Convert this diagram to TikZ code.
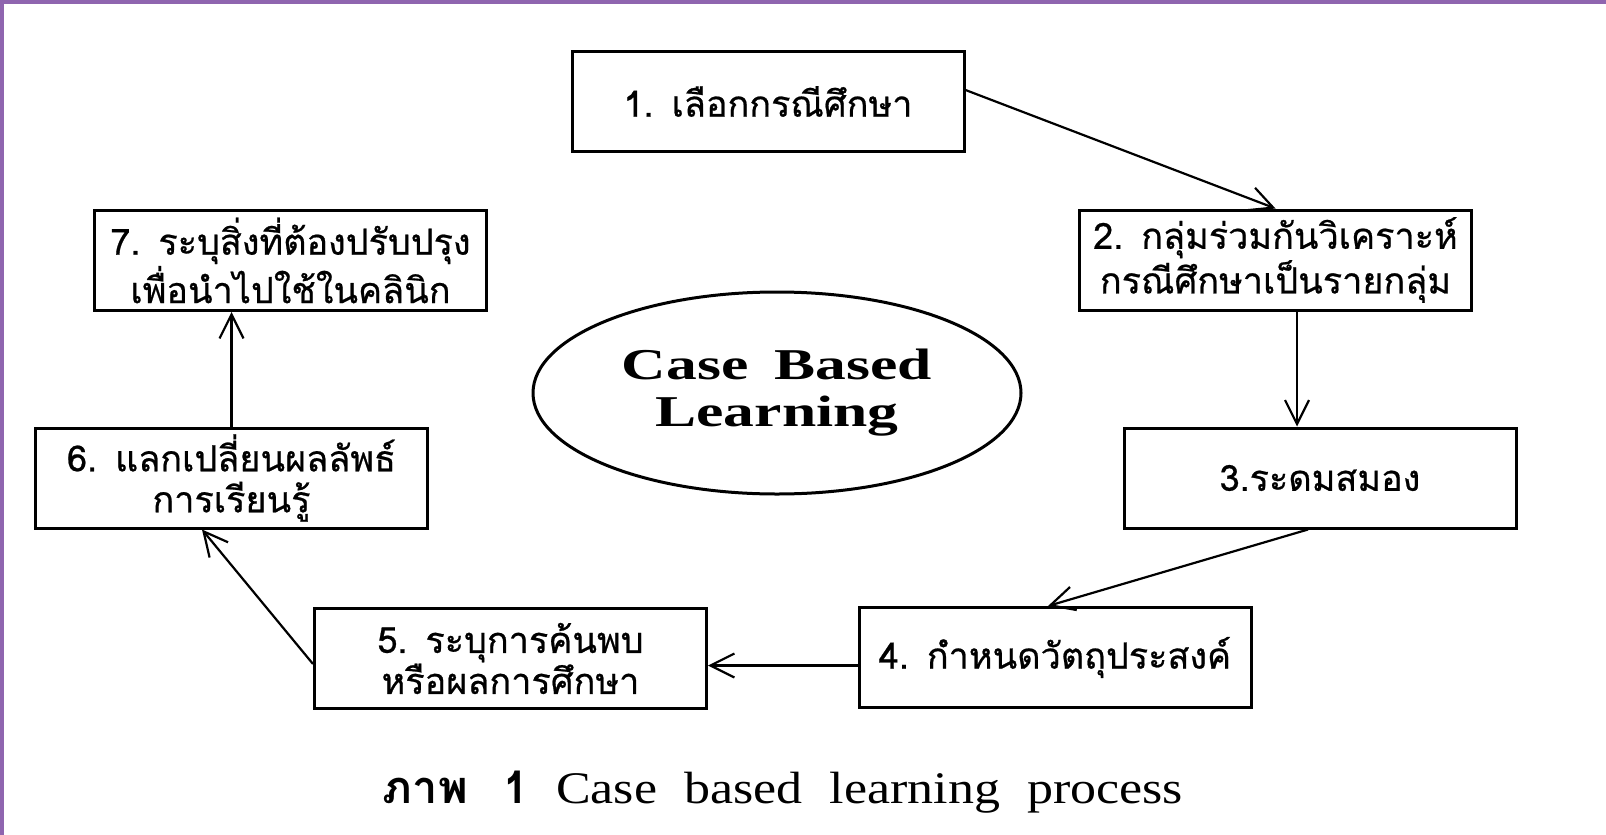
\documentclass[tikz,border=0pt]{standalone}
\usepackage{fontspec}
\newfontfamily\thaifont[Script=Thai]{Loma}
\newfontfamily\thaiboxfont[Script=Thai,FakeBold=0.6]{Loma}
\newfontfamily\capserif[FakeStretch=1.15]{Liberation Serif}
\newfontfamily\titleserif[FakeStretch=1.4]{Liberation Serif}
\usetikzlibrary{arrows.meta,shapes.geometric}
\definecolor{borderpurple}{RGB}{143,101,175}
\tikzset{
  stepbox/.style={draw, line width=1.5pt, minimum width=196pt, minimum height=50pt,
    inner sep=0pt, align=center, font=\thaiboxfont\fontsize{18}{20.5}\selectfont},
  arr/.style={line width=1.1pt, -{Straight Barb[length=12pt,width=12pt,line width=1.1pt]}},
  titleoval/.style={draw, ellipse, line width=1.5pt, minimum width=244pt, minimum height=101pt,
    inner sep=0pt, align=center, font=\titleserif\bfseries\fontsize{22}{23.5}\selectfont},
}
\begin{document}
\begin{tikzpicture}[x=0.5pt,y=-0.5pt]
\useasboundingbox (0,0) rectangle (1606,835);
\fill[white] (0,0) rectangle (1606,835);
\fill[borderpurple] (0,0) rectangle (1606,4);
\fill[borderpurple] (0,0) rectangle (4,835);

\node[stepbox] (b1) at (768,101.5) {1.\hspace{0.5em}เลือกกรณีศึกษา};
\node[stepbox] (b2) at (1275.5,260) {2.\hspace{0.5em}กลุ่มร่วมกันวิเคราะห์\\กรณีศึกษาเป็นรายกลุ่ม};
\node[stepbox] (b3) at (1320,478) {3.ระดมสมอง};
\node[stepbox] (b4) at (1055,657.5) {4.\hspace{0.5em}กำหนดวัตถุประสงค์};
\node[stepbox] (b5) at (510.5,658.5) {5.\hspace{0.5em}ระบุการค้นพบ\\หรือผลการศึกษา};
\node[stepbox] (b6) at (231.5,478) {6.\hspace{0.5em}แลกเปลี่ยนผลลัพธ์\\การเรียนรู้};
\node[stepbox] (b7) at (290.5,260.5) {7.\hspace{0.5em}ระบุสิ่งที่ต้องปรับปรุง\\เพื่อนำไปใช้ในคลินิก};

\node[titleoval] (cbl) at (777,393) {\raisebox{-1.5pt}{Case\hspace{0.6em}Based}\\\raisebox{-1.5pt}{Learning}};

\coordinate (v23) at (1297,0);
\draw[arr] ([yshift=5.75pt]b1.east) -- (b2.north);
\draw[arr] (b2.south -| v23) -- (b3.north -| v23);
\draw[arr] ([xshift=-6pt]b3.south) -- ([xshift=-3.5pt]b4.north);
\draw[arr] ([yshift=-4pt]b4.west) coordinate (p45) -- (p45 -| b5.east);
\draw[arr] ([yshift=-2.75pt]b5.west) -- ([xshift=-14.75pt]b6.south);
\draw[arr] (b6.north) -- (b6.north |- b7.south);

\node[font=\fontsize{22.6}{26}\selectfont] (cap) at (783,792)
  {{\thaifont\bfseries ภาพ\hspace{0.8em}1}\hspace{0.6em}{\capserif Case\hspace{0.6em}based\hspace{0.6em}learning\hspace{0.6em}process}};
\end{tikzpicture}
\end{document}
